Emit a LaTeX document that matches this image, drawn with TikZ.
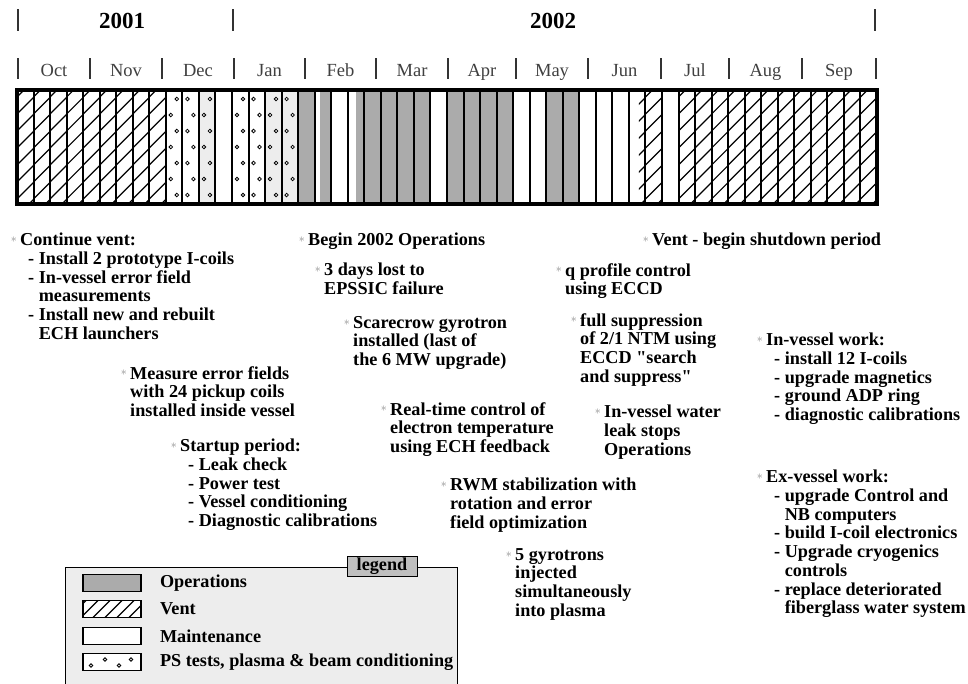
\documentclass[tikz,border=0pt]{standalone}
\usepackage{fontspec}
\setmainfont{Liberation Serif}
\usetikzlibrary{positioning}

\newcommand{\notefont}{\fontsize{18.2}{18.7}\selectfont\bfseries}
\newcommand{\ind}{\hspace*{8pt}}
\newcommand{\wk}{16.5385}

\begin{document}
\begin{tikzpicture}[x=1pt,y=-1pt]
  \tikzset{note/.style={font=\notefont, align=left, anchor=north west, inner sep=0pt},
    bul/.style={text=black!45, font=\fontsize{13}{13}\selectfont, inner sep=0pt, anchor=east},
    month/.style={font=\fontsize{18.5}{18.5}\selectfont, text=black!75, anchor=base},
    year/.style={font=\fontsize{23}{23}\selectfont\bfseries, anchor=base},
    tick/.style={line width=1.2pt, black!80},
    ops/.style={fill=black!33},
    swatch/.style={draw, line width=1.6pt, minimum width=58pt, minimum height=17pt, inner sep=0pt},
    legtext/.style={font=\notefont, anchor=west, inner sep=0pt}}
  \useasboundingbox (0,0) rectangle (968,683);
  \fill[white] (0,0) rectangle (968,683);
  %% years
  \foreach \x in {18,233,875} \draw[tick] (\x,9) -- (\x,31);
  \node[year] (y1) at (122,28) {2001};
  \node[year] (y2) at (553,28) {2002};
  %% months
  \foreach \x in {18,90,162,234,305,376,448,516,588,661,729,802,876} \draw[tick] (\x,58) -- (\x,79);
  \foreach \x/\m in {54/Oct,126/Nov,198/Dec,269.5/Jan,340.5/Feb,412/Mar,482/Apr,552/May,624.5/Jun,695/Jul,765.5/Aug,839/Sep}
    \node[month] (m\m) at (\x,76) {\m};
  %% weeks
  \fill[white] (17,90) rectangle (877,204);
  \foreach \w/\f in {17/0,18/.3,20/.5,21/0,22/0,23/0,24/0,26/0,27/0,28/0,29/0,32/0,33/0}
    \fill[ops] ({17+(\w+\f)*\wk},90) rectangle ({17+(\w+1)*\wk},204);
  % vent hatching
  \foreach \w/\f in {0/0,1/0,2/0,3/0,4/0,5/0,6/0,7/0,8/0,37/.6,38/0,40/0,41/0,42/0,43/0,44/0,45/0,46/0,47/0,48/0,49/0,50/0,51/0} {
    \begin{scope}
      \clip ({17+(\w+\f)*\wk},90) rectangle ({17+(\w+1)*\wk},204);
      \foreach \k in {0,...,8}
        \draw[line width=1.2pt] ({17+\w*\wk},{97+17*\k}) -- ++(\wk,-\wk);
    \end{scope}
  }
  % PS tests
  \foreach \w in {11,15,16} \fill[black!7] ({17+\w*\wk},90) rectangle ({17+(\w+1)*\wk},204);
  \foreach \w in {9,10,11,13,14,15,16}
    \foreach \k in {0,...,6}
      \draw[line width=0.8pt] ({17+\w*\wk+5+6*mod(\k+\w,2)},{99+16*\k}) circle (1.8);
  \foreach \w in {1,...,51} \draw[line width=2pt] ({17+\w*\wk},90) -- ({17+\w*\wk},204);
  \draw[line width=3.5pt] (17,90) rectangle (877,204);
  %% notes
  \node[note] (n1) at (20,233) {Continue vent:\\\ind- Install 2 prototype I-coils\\\ind- In-vessel error field\\\ind\hphantom{- }measurements\\\ind- Install new and rebuilt\\\ind\hphantom{- }ECH launchers};
  \node[note] (n2) at (130,366) {Measure error fields\\with 24 pickup coils\\installed inside vessel};
  \node[note] (n3) at (180,439) {Startup period:\\\ind- Leak check\\\ind- Power test\\\ind- Vessel conditioning\\\ind- Diagnostic calibrations};
  \node[note] (n4) at (308,233) {Begin 2002 Operations};
  \node[note] (n5) at (324,263) {3 days lost to\\EPSSIC failure};
  \node[note] (n6) at (353,316) {Scarecrow gyrotron\\installed (last of\\the 6 MW upgrade)};
  \node[note] (n7) at (390,402) {Real-time control of\\electron temperature\\using ECH feedback};
  \node[note] (n8) at (450,478) {RWM stabilization with\\rotation and error\\field optimization};
  \node[note] (n9) at (515,548) {5 gyrotrons\\injected\\simultaneously\\into plasma};
  \node[note] (n10) at (565,263) {q profile control\\using ECCD};
  \node[note] (n11) at (580,313) {full suppression\\of 2/1 NTM using\\ECCD \textquotedbl search\\and suppress\textquotedbl};
  \node[note] (n12) at (604,405) {In-vessel water\\leak stops\\Operations};
  \node[note] (n13) at (652,233) {Vent - begin shutdown period};
  \node[note] (n14) at (766,333) {In-vessel work:\\\ind- install 12 I-coils\\\ind- upgrade magnetics\\\ind- ground ADP ring\\\ind- diagnostic calibrations};
  \node[note] (n15) at (766,470) {Ex-vessel work:\\\ind- upgrade Control and\\\ind\hphantom{- }NB computers\\\ind- build I-coil electronics\\\ind- Upgrade cryogenics\\\ind\hphantom{- }controls\\\ind- replace deteriorated\\\ind\hphantom{- }fiberglass water system};
  \foreach \n in {1,...,15}
    \node[bul, left=3pt of n\n.north west, yshift=-7pt] (b\n) {$\ast$};
  %% legend
  \begin{scope}
    \clip (0,0) rectangle (968,683);
    \draw[fill=black!7, line width=0.8pt] (65,567) rectangle (457,700);
  \end{scope}
  \node[draw, fill=black!25, font=\notefont, inner xsep=10pt, inner ysep=1.5pt] (leg) at (382,566) {legend};
  \node[swatch, fill=black!33] (s1) at (112,583) {};
  \node[swatch, fill=white, path picture={
      \foreach \k in {0,...,5}
        \draw[line width=1.2pt] ([xshift=\k*12pt-14pt]path picture bounding box.south west) -- ++(17pt,17pt);}] (s2) at (112,609) {};
  \node[swatch, fill=white] (s3) at (112,636) {};
  \node[swatch, fill=white, path picture={
      \foreach \a/\b in {8/5,22/11,36/5,48/11}
        \draw[line width=0.8pt] ([xshift=\a pt, yshift=\b pt]path picture bounding box.south west) circle (1.8pt);}] (s4) at (112,662) {};
  \node[legtext, right=18pt of s1] (l1) {Operations};
  \node[legtext, right=18pt of s2] (l2) {Vent};
  \node[legtext, right=18pt of s3] (l3) {Maintenance};
  \node[legtext, right=18pt of s4] (l4) {PS tests, plasma \& beam conditioning};
\end{tikzpicture}
\end{document}
